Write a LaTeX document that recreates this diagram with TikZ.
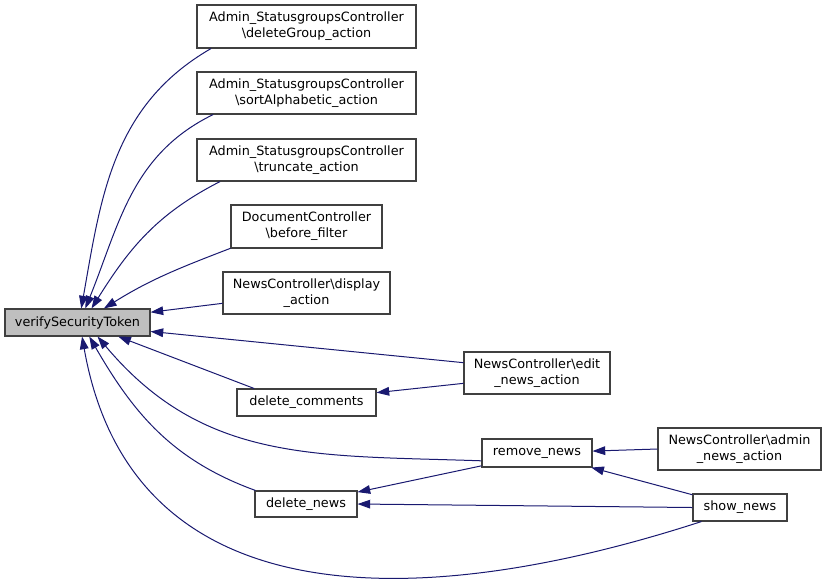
\documentclass[tikz,border=0pt]{standalone}
\usepackage{fontspec}
\setmainfont{DejaVu Sans}
\usepackage{tikz}
\usetikzlibrary{arrows.meta}
\definecolor{edgeblue}{RGB}{25,25,112}
\definecolor{boxline}{RGB}{64,64,64}
\definecolor{curfill}{RGB}{191,191,191}
\tikzset{>={Triangle[length=9.5pt,width=6.5pt]}}
\tikzset{
	fn/.style={draw=boxline, line width=0.8pt, fill=white, inner sep=0pt, align=center, font=\fontsize{9.6}{12}\selectfont},
	cur/.style={fn, fill=curfill},
	call/.style={->, draw=edgeblue, line width=0.75pt}
}
\newcommand{\bs}{\textbackslash}
\begin{document}
\begin{tikzpicture}[x=0.75pt,y=-0.75pt]
				\useasboundingbox (0,0) rectangle (827,583);
				% the called function
				\node[cur, minimum width=108.75pt, minimum height=20.25pt] (verify) at (77.5,322.5) {verifySecurityToken};
				% callers, first column
				\node[fn, minimum width=164.25pt, minimum height=32.25pt] (dg) at (306.5,26.5) {Admin\_StatusgroupsController\\\bs deleteGroup\_action};
				\node[fn, minimum width=164.25pt, minimum height=31.5pt] (sa) at (306.5,93) {Admin\_StatusgroupsController\\\bs sortAlphabetic\_action};
				\node[fn, minimum width=164.25pt, minimum height=31.5pt] (tr) at (306.5,160) {Admin\_StatusgroupsController\\\bs truncate\_action};
				\node[fn, minimum width=113.25pt, minimum height=32.25pt] (bf) at (306.5,226.5) {DocumentController\\\bs before\_filter};
				\node[fn, minimum width=125.25pt, minimum height=31.5pt] (disp) at (306.5,293) {NewsController\bs display\\\_action};
				\node[fn, minimum width=104.25pt, minimum height=20.25pt] (dc) at (306.5,402.5) {delete\_comments};
				\node[fn, minimum width=76.5pt, minimum height=19.5pt] (dn) at (306,504) {delete\_news};
				% second column
				\node[fn, minimum width=109.5pt, minimum height=31.5pt] (edit) at (537,373) {NewsController\bs edit\\\_news\_action};
				\node[fn, minimum width=82.5pt, minimum height=21pt] (rm) at (537,453) {remove\_news};
				% third column
				\node[fn, minimum width=122.25pt, minimum height=31.5pt] (adm) at (739.5,449) {NewsController\bs admin\\\_news\_action};
				\node[fn, minimum width=70.5pt, minimum height=20.25pt] (show) at (740,507.5) {show\_news};

				% calls into verifySecurityToken
				\draw[call] (dg.193) to[out=210, in=80] (verify.75);
				\draw[call] (sa.193) to[out=206, in=68] (verify.61);
				\draw[call] (tr.194) to[out=207, in=58] (verify.45);
				\draw[call] (bf.196) to[out=201, in=32] (verify.28);
				\draw[call] (disp.187) -- (verify.8);
				\draw[call] (edit.172) -- (verify.-7);
				\draw[call] (dc.165) -- (verify.-19);
				\draw[call] (rm.188) to[out=178, in=-50, looseness=1.05] (verify.-35);
				\draw[call] (dn.165) to[out=160, in=-60] (verify.-50);
				\draw[call] (show.200) to[out=198, in=-80, looseness=1.15] (verify.-72);

				% the other calls
				\draw[call] (edit.188) -- (dc.8);
				\draw[call] (rm.193) -- (dn.13);
				\draw[call] (show.180) -- (dn.0);
				\draw[call] (adm.180) -- (rm.2);
				\draw[call] (show.165) -- (rm.-15);
			\end{tikzpicture}
\end{document}
